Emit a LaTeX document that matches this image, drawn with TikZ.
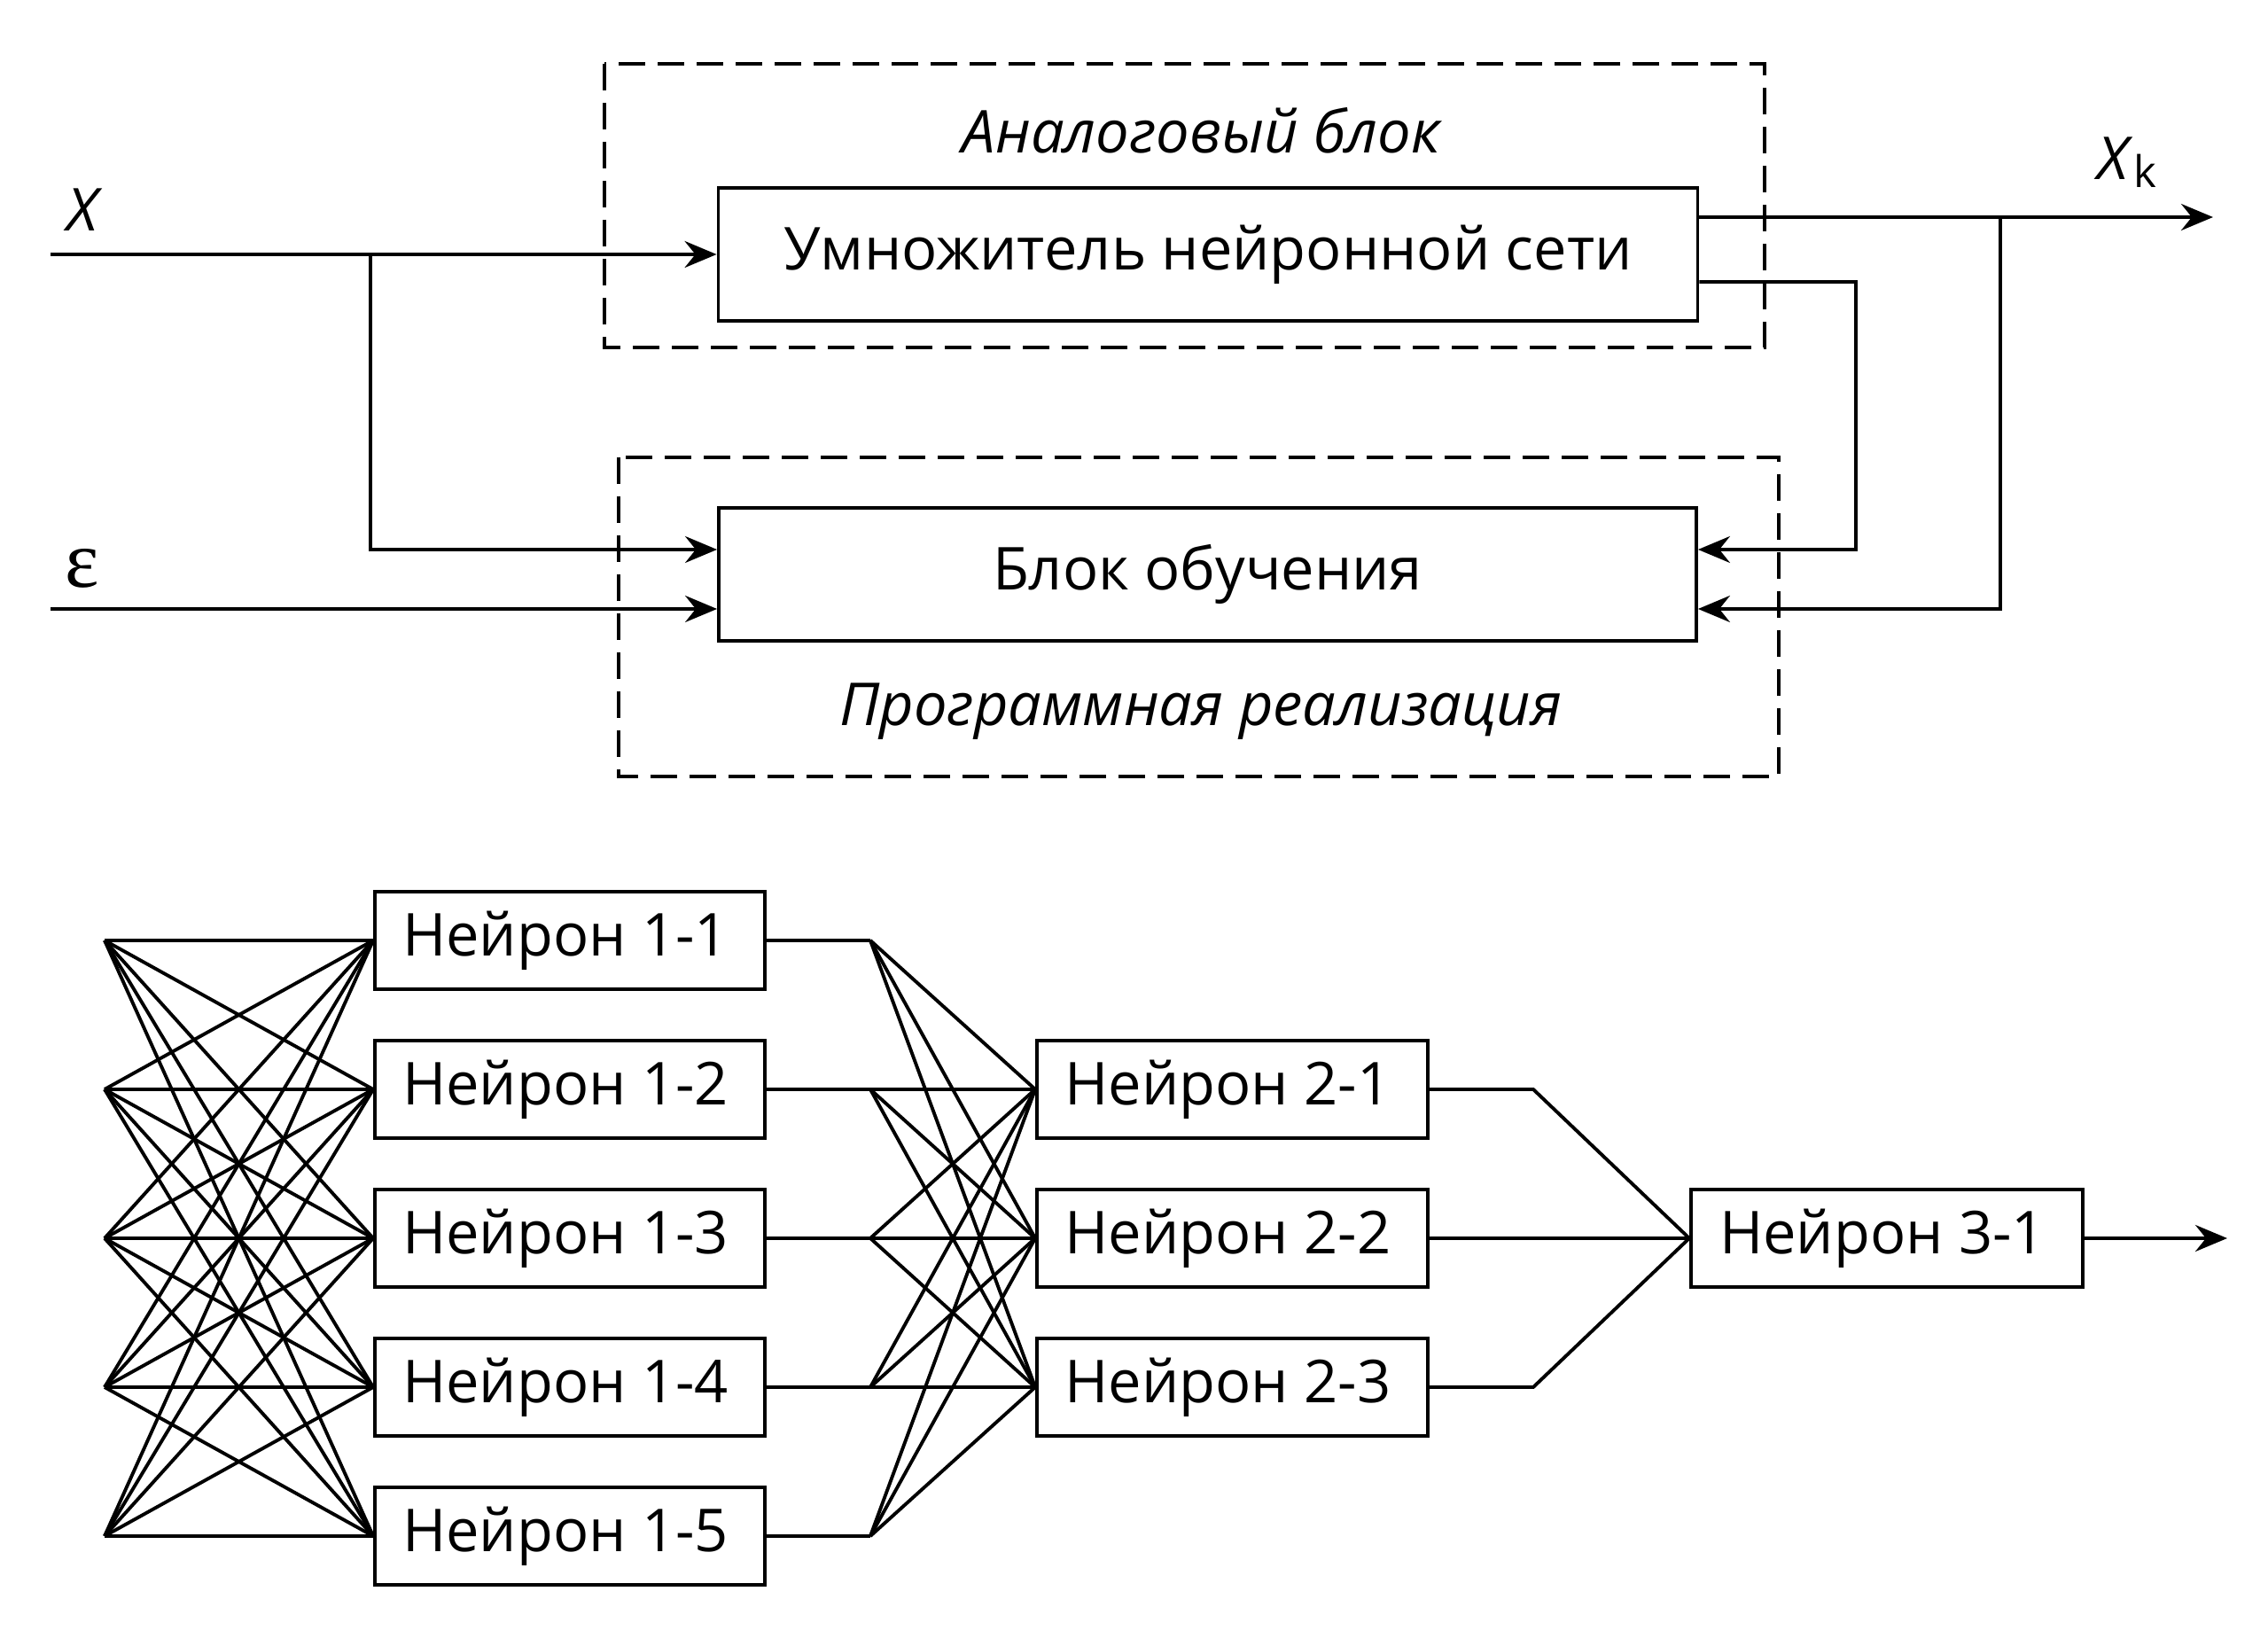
\documentclass[tikz,border=0pt]{standalone}
\usepackage{fontspec}
\setmainfont{Open Sans}
\newfontfamily\epsfont{Liberation Serif}
\usepackage{tikz}
\usetikzlibrary{arrows.meta}

\begin{document}
\begin{tikzpicture}[
	line width=1.1pt,
	>={Stealth[length=0.36cm,width=0.3cm,inset=0.12cm]},
	block/.style={draw, rectangle, minimum height=1.5cm, inner sep=0pt, font=\fontsize{19}{22}\selectfont},
	neuron/.style={draw, rectangle, minimum width=4.4cm, minimum height=1.1cm, inner sep=0pt, font=\fontsize{19}{22}\selectfont},
	frame/.style={draw, line width=0.9pt, dash pattern=on 0.3cm off 0.14cm},
	lbl/.style={inner sep=0pt, font=\fontsize{19}{22}\selectfont\itshape}
	]
\useasboundingbox (0,0) rectangle (25.59,-18.57);

% top: analog block and learning block
\node[block, minimum width=11.05cm] (mult) at (13.63,-2.87) {Умножитель нейронной сети};
\node[block, minimum width=11.03cm] (learn) at (13.625,-6.48) {Блок обучения};

\draw[frame] (6.82,-0.72) rectangle (19.91,-3.92);
\draw[frame] (6.98,-5.16) rectangle (20.07,-8.76);
\node[lbl] (analog) at (13.55,-1.47) {Аналоговый блок};
\node[lbl] (soft) at (13.55,-8.03) {Программная реализация};

\node[lbl] (xin) at (0.93,-2.37) {X};
\node[inner sep=0pt, font=\fontsize{26}{28}\epsfont] (eps) at (0.93,-6.41) {ε};
\node[lbl] (xk) at (24.0,-1.83) {X\textup{\fontsize{14}{16}\selectfont\raisebox{-0.35ex}{k}}};

\coordinate (xa) at (0.57,-2.87);
\coordinate (xb) at (4.18,-2.87);
\coordinate (ea) at (0.57,-6.87);
\coordinate (oa) at (24.97,-2.45);
\coordinate (ob) at (22.57,-2.45);
\coordinate (fb) at (20.94,-6.20);

\draw[->] (xa) -- (mult.west);
\draw[->] (xb) |- ([yshift=0.28cm]learn.west);
\draw[->] (ea) -- ([yshift=-0.39cm]learn.west);

\draw[->] ([yshift=0.42cm]mult.east) -- (oa);
\draw[->] (ob) |- ([yshift=-0.39cm]learn.east);
\draw[->] ([yshift=-0.31cm]mult.east) -| (fb) -- ([yshift=0.28cm]learn.east);

% bottom: network
\foreach \i/\y in {1/-10.61, 2/-12.29, 3/-13.97, 4/-15.65, 5/-17.33} {
	\coordinate (in\i) at (1.18,\y);
	\node[neuron] (n1\i) at (6.43,\y) {\hspace*{-0.1cm}Нейрон 1-\i};
	\coordinate (s\i) at (9.82,\y);
	\draw (n1\i.east) -- (s\i);
}
\foreach \j/\y in {1/-12.29, 2/-13.97, 3/-15.65} {
	\node[neuron, minimum width=4.41cm] (n2\j) at (13.905,\y) {\hspace*{-0.1cm}Нейрон 2-\j};
	\coordinate (k\j) at (17.30,\y);
}
\node[neuron, minimum width=4.42cm] (n31) at (21.29,-13.97) {\hspace*{-0.1cm}Нейрон 3-1};

\foreach \i in {1,...,5}
	\foreach \j in {1,...,5}
		\draw (in\i) -- (n1\j.west);
\foreach \i in {1,...,5}
	\foreach \j in {1,...,3}
		\draw (s\i) -- (n2\j.west);

\draw (n21.east) -- (k1) -- (n31.west);
\draw (n22.east) -- (n31.west);
\draw (n23.east) -- (k3) -- (n31.west);
\coordinate (out) at (25.13,-13.97);
\draw[->] (n31.east) -- (out);
\end{tikzpicture}
\end{document}
